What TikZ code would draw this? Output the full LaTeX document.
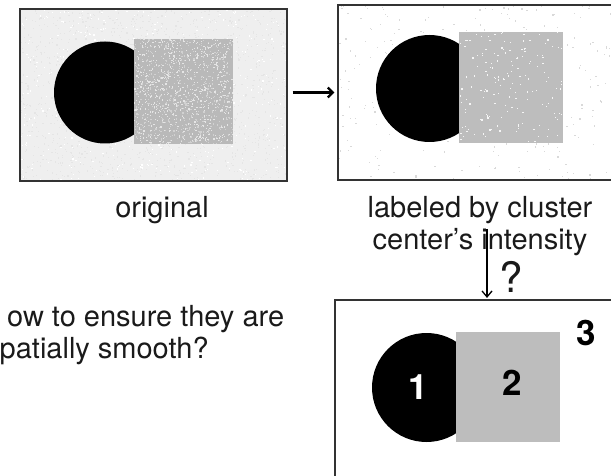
\documentclass[tikz,border=0pt]{standalone}
\usepackage{fontspec}
\setmainfont{TeX Gyre Heros}
\usetikzlibrary{arrows.meta}
\definecolor{ink}{HTML}{1A1A1A}
\definecolor{frame}{HTML}{333333}
\definecolor{sqgray}{HTML}{BDBDBD}
\definecolor{noisysq}{HTML}{B9B9B9}
\definecolor{noisybg}{HTML}{EFEFEF}
\begin{document}
\begin{tikzpicture}[x=1pt,y=-1pt,
  imgbox/.style={draw=frame,line width=1.1pt,inner sep=0pt},
  lbl/.style={font=\fontsize{29}{32}\selectfont,text=ink,inner sep=0pt,anchor=base},
  lbll/.style={font=\fontsize{29}{32}\selectfont,text=ink,inner sep=0pt,anchor=base west},
  num/.style={font=\fontsize{35}{40}\selectfont\bfseries,inner sep=0pt},
  thickarrow/.style={draw=black,line width=2.3pt,-{Straight Barb[length=5pt,width=10pt]}},
  thinarrow/.style={draw=black,line width=1.3pt,-{Straight Barb[length=6pt,width=10pt]}}]
\useasboundingbox (0,0) rectangle (611,476);

% ---------- original (noisy) image ----------
\fill[noisybg] (20,9) rectangle (287,181);
\begin{scope}
  \clip (20,9) rectangle (287,181);
  \pgfmathsetseed{7}
  \foreach \i in {1,...,1400}{
    \pgfmathsetmacro\px{20+267*rnd}
    \pgfmathsetmacro\py{9+172*rnd}
    \fill[gray!20] (\px,\py) rectangle ++(1.2,1.2);
  }
  \foreach \i in {1,...,500}{
    \pgfmathsetmacro\px{20+267*rnd}
    \pgfmathsetmacro\py{9+172*rnd}
    \fill[white] (\px,\py) rectangle ++(1.2,1.2);
  }
  \fill[black] (105,92.5) circle[radius=51pt];
  \fill[noisysq] (134,39) rectangle (233,144);
  \foreach \i in {1,...,700}{
    \pgfmathsetmacro\px{134+98*rnd}
    \pgfmathsetmacro\py{39+104*rnd}
    \fill[gray!20] (\px,\py) rectangle ++(1.2,1.2);
  }
  \foreach \i in {1,...,600}{
    \pgfmathsetmacro\px{134+98*rnd}
    \pgfmathsetmacro\py{39+104*rnd}
    \fill[gray!36] (\px,\py) rectangle ++(1.2,1.2);
  }
\end{scope}
\node[imgbox,minimum width=267pt,minimum height=172pt] (orig) at (153.5,95) {};

% ---------- labeled image ----------
\fill[white] (338,5) rectangle (625,180);
\begin{scope}
  \clip (338,5) rectangle (625,180);
  \pgfmathsetseed{11}
  \foreach \i in {1,...,320}{
    \pgfmathsetmacro\px{338+275*rnd}
    \pgfmathsetmacro\py{5+175*rnd}
    \fill[gray!30] (\px,\py) rectangle ++(1.3,1.3);
  }
  \fill[black] (429.5,88.5) circle[radius=53.5pt];
  \fill[sqgray] (459,32) rectangle (563,143);
  \foreach \i in {1,...,160}{
    \pgfmathsetmacro\px{459+103*rnd}
    \pgfmathsetmacro\py{32+110*rnd}
    \fill[gray!8] (\px,\py) rectangle ++(1.2,1.2);
  }
\end{scope}
\node[imgbox,minimum width=287pt,minimum height=175pt] (lab) at (481.5,92.5) {};

% ---------- smooth labeling ----------
\fill[black] (426.5,387.5) circle[radius=54.5pt];
\fill[sqgray] (456,332) rectangle (560,442);
\node[imgbox,minimum width=290pt,minimum height=190pt] (smooth) at (480,395) {};
\node[num,text=white] (n1) at (418,387) {1};
\node[num,text=black] (n2) at (512,383) {2};
\node[num,text=black] (n3) at (586,333) {3};

% ---------- labels ----------
\node[lbl] (torig) at (162,218) {original};
\node[lbl] (tlab1) at (480,218) {labeled by cluster};
\node[lbl] (tlab2) at (480,250) {center’s intensity};
\begin{scope}
  \clip (6,290) rectangle (340,334);
  \node[lbll] (q1) at (-14,326) {How to ensure they are};
\end{scope}
\node[lbll] (q2) at (-15,358) {spatially smooth?};

% ---------- arrows ----------
\draw[thickarrow,shorten <=5pt,shorten >=3pt] (orig.east |- lab.west) -- (lab.west);
\coordinate (dtop) at (487,229);
\draw[thinarrow,shorten >=1.5pt] (dtop) -- (dtop |- smooth.north);
\node[font=\fontsize{42}{46}\selectfont,text=ink,inner sep=0pt,anchor=base] (qm) at (511,292) {?};
\end{tikzpicture}
\end{document}
